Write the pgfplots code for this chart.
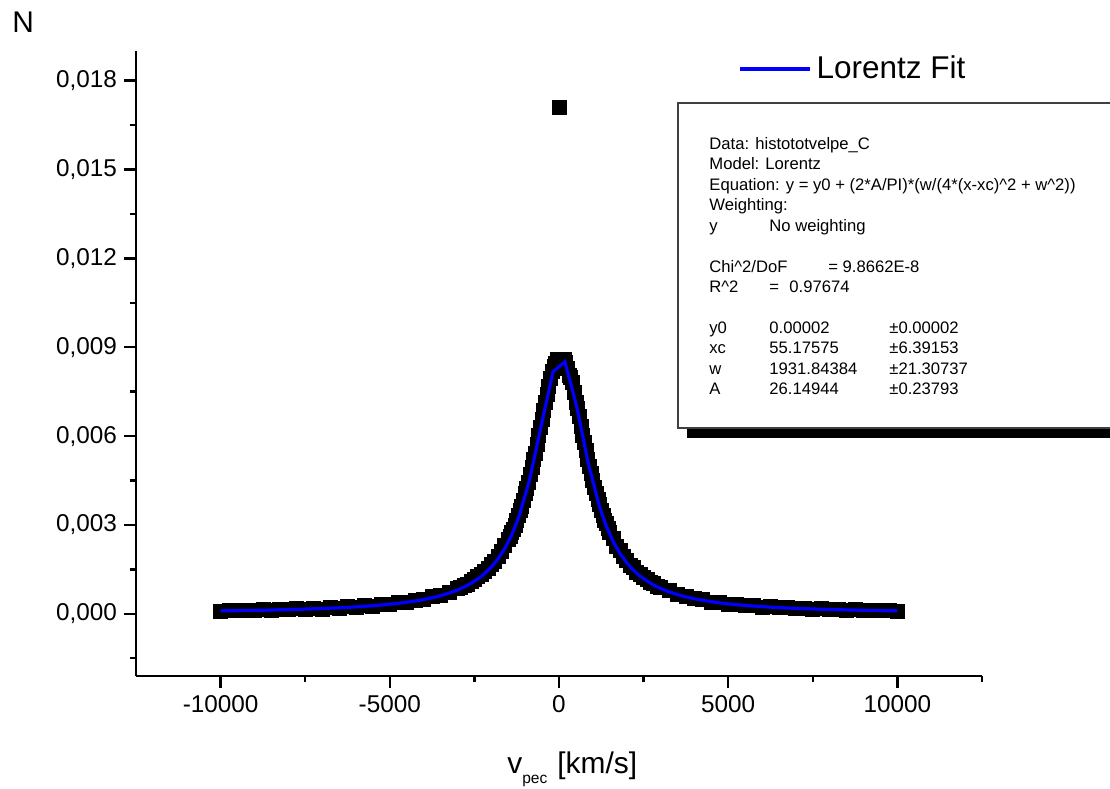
\documentclass[border=0pt]{standalone}
\usepackage{pgfplots}
\pgfplotsset{compat=1.18}
\usepackage{fontspec}
\setmainfont{Liberation Sans}
\newcommand\tb{\fontsize{8.35}{10}\selectfont}
\begin{document}
\begin{tikzpicture}
\useasboundingbox (-68bp,-56.5bp) rectangle (487bp,338bp);
\begin{axis}[
  at={(0,0)}, anchor=south west,
  scale only axis, width=423bp, height=312.5bp,
  xmin=-12500, xmax=12500, ymin=-0.0021, ymax=0.019,
  clip marker paths=true,
  axis x line*=bottom, axis y line*=left,
  axis line style={line width=1.25bp, black},
  tick style={line width=1.25bp, black},
  tick align=outside,
  major tick length=6bp, minor tick length=3bp,
  xtick={-10000,-5000,0,5000,10000},
  xticklabels={-10000,-5000,0,5000,10000},
  minor xtick={-7500,-2500,2500,7500,12500},
  ytick={0,0.003,0.006,0.009,0.012,0.015,0.018},
  yticklabels={{0,000},{0,003},{0,006},{0,009},{0,012},{0,015},{0,018}},
  minor ytick={-0.0015,0.0015,0.0045,0.0075,0.0105,0.0135,0.0165},
  scaled y ticks=false, scaled x ticks=false,
  tick label style={font=\fontsize{12.2}{14}\selectfont},
  legend style={at={(0.7116,0.9712)}, anchor=west, draw=none, fill=none,
    inner sep=0pt, font=\fontsize{15.8}{19}\selectfont},
  legend cell align=left,
  legend image code/.code={\draw[#1] (0bp,0bp) -- (35bp,0bp); \path (35.5bp,0bp);},
]
\addplot[only marks, mark=square*, mark size=3.5bp, black, forget plot] table {
x y
-10000 0.000090
-9750 0.000118
-9500 0.000100
-9250 0.000130
-9000 0.000110
-8750 0.000140
-8500 0.000120
-8250 0.000150
-8000 0.000135
-7750 0.000170
-7500 0.000150
-7250 0.000185
-7000 0.000165
-6750 0.000210
-6500 0.000190
-6250 0.000240
-6000 0.000220
-5750 0.000275
-5500 0.000260
-5250 0.000320
-5000 0.000310
-4750 0.000380
-4500 0.000385
-4250 0.000460
-4000 0.000480
-3750 0.000575
-3500 0.000620
-3250 0.000730
-3000 0.000850
-2900 0.000880
-2800 0.000960
-2700 0.001000
-2600 0.001090
-2500 0.001150
-2400 0.001250
-2300 0.001320
-2200 0.001440
-2100 0.001530
-2000 0.001670
-1900 0.001780
-1800 0.001950
-1700 0.002100
-1600 0.002310
-1500 0.002500
-1450 0.002600
-1400 0.002760
-1350 0.002860
-1300 0.003000
-1250 0.003140
-1200 0.003330
-1150 0.003480
-1100 0.003640
-1050 0.003830
-1000 0.004060
-950 0.004240
-900 0.004450
-850 0.004700
-800 0.004950
-750 0.005200
-700 0.005420
-650 0.005720
-600 0.006010
-550 0.006300
-500 0.006550
-450 0.006850
-400 0.007150
-350 0.007420
-300 0.007680
-250 0.007950
-200 0.008200
-150 0.008350
-100 0.008450
-50 0.008580
0 0.017100
50 0.008600
100 0.008550
150 0.008580
200 0.008500
250 0.008300
300 0.008050
350 0.007990
400 0.007800
450 0.007480
500 0.007150
550 0.006920
600 0.006680
650 0.006330
700 0.006030
750 0.005790
800 0.005530
850 0.005220
900 0.004960
950 0.004740
1000 0.004520
1050 0.004260
1100 0.004050
1150 0.003870
1200 0.003700
1250 0.003480
1300 0.003320
1350 0.003170
1400 0.003050
1450 0.002870
1500 0.002750
1600 0.002540
1700 0.002290
1800 0.002130
1900 0.001930
2000 0.001810
2100 0.001640
2200 0.001550
2300 0.001410
2400 0.001340
2500 0.001220
2600 0.001170
2700 0.001070
2800 0.001030
2900 0.000940
3000 0.000900
3250 0.000780
3500 0.000660
3750 0.000600
4000 0.000510
4250 0.000480
4500 0.000400
4750 0.000395
5000 0.000330
5250 0.000330
5500 0.000275
5750 0.000285
6000 0.000230
6250 0.000245
6500 0.000200
6750 0.000215
7000 0.000175
7250 0.000190
7500 0.000155
7750 0.000170
8000 0.000135
8250 0.000150
8500 0.000125
8750 0.000140
9000 0.000110
9250 0.000125
9500 0.000100
9750 0.000115
10000 0.000090
};
\addplot[color={rgb,255:red,0;green,0;blue,255}, line width=1.6bp, no marks] table {
x y
-10000 0.000099
-9750 0.000103
-9500 0.000107
-9250 0.000112
-9000 0.000117
-8750 0.000122
-8500 0.000128
-8250 0.000135
-8000 0.000142
-7750 0.000150
-7500 0.000159
-7250 0.000168
-7000 0.000179
-6750 0.000190
-6500 0.000203
-6250 0.000218
-6000 0.000234
-5750 0.000252
-5500 0.000273
-5250 0.000297
-5000 0.000324
-4750 0.000355
-4500 0.000391
-4250 0.000433
-4000 0.000483
-3750 0.000542
-3500 0.000612
-3250 0.000698
-3000 0.000803
-2800 0.000905
-2600 0.001027
-2400 0.001175
-2200 0.001356
-2000 0.001579
-1800 0.001858
-1600 0.002209
-1400 0.002656
-1200 0.003225
-875 0.004491
-525 0.006352
-175 0.008174
175 0.008507
525 0.006989
875 0.005029
1200 0.003603
1400 0.002953
1600 0.002442
1800 0.002041
2000 0.001725
2200 0.001473
2400 0.001270
2600 0.001105
2800 0.000970
3000 0.000857
3250 0.000742
3500 0.000648
3750 0.000571
4000 0.000507
4250 0.000454
4500 0.000409
4750 0.000370
5000 0.000337
5250 0.000308
5500 0.000283
5750 0.000261
6000 0.000242
6250 0.000225
6500 0.000209
6750 0.000196
7000 0.000184
7250 0.000173
7500 0.000163
7750 0.000154
8000 0.000146
8250 0.000138
8500 0.000131
8750 0.000125
9000 0.000119
9250 0.000114
9500 0.000109
9750 0.000105
10000 0.000101
};
\addlegendentry{Lorentz Fit}
\end{axis}
% axis titles
\node[anchor=base west, inner sep=0, font=\fontsize{15}{18}\selectfont] at (-62bp,321.5bp) {N};
\node[anchor=base west, inner sep=0, font=\fontsize{15}{18}\selectfont] at (185.5bp,-48.5bp)
  {v\raisebox{-5bp}{\fontsize{7.8}{9}\selectfont pec}\hspace{5bp}[km/s]};
% fit report box
\fill[black] (275.5bp,119bp) rectangle (492bp,124bp);
\draw[line width=0.75bp, black!75, fill=white] (271bp,124bp) rectangle (492bp,286.5bp);
\begin{scope}[every node/.style={anchor=base west, inner sep=0, font=\tb}]
\node at (286.5bp,263bp) {Data: histototvelpe\_C};
\node at (286.5bp,253bp) {Model: Lorentz};
\node at (286.5bp,242.65bp) {Equation: y = y0 + (2*A/PI)*(w/(4*(x-xc)\textasciicircum 2 + w\textasciicircum 2))};
\node at (286.5bp,232.5bp) {Weighting:};
\node at (286.5bp,222bp) {y};
\node at (316.5bp,222bp) {No weighting};
\node at (286.5bp,201.5bp) {Chi\textasciicircum 2/DoF};
\node at (346bp,201.5bp) {= 9.8662E-8};
\node at (286.5bp,191.5bp) {R\textasciicircum 2};
\node at (316.5bp,191.5bp) {=};
\node at (326.5bp,191.5bp) {0.97674};
\node at (286.5bp,171bp) {y0};
\node at (316.5bp,171bp) {0.00002};
\node at (376.5bp,171bp) {±0.00002};
\node at (286.5bp,161bp) {xc};
\node at (316.5bp,161bp) {55.17575};
\node at (376.5bp,161bp) {±6.39153};
\node at (286.5bp,150.5bp) {w};
\node at (316.5bp,150.5bp) {1931.84384};
\node at (376.5bp,150.5bp) {±21.30737};
\node at (286.5bp,140.5bp) {A};
\node at (316.5bp,140.5bp) {26.14944};
\node at (376.5bp,140.5bp) {±0.23793};
\end{scope}
\end{tikzpicture}
\end{document}
